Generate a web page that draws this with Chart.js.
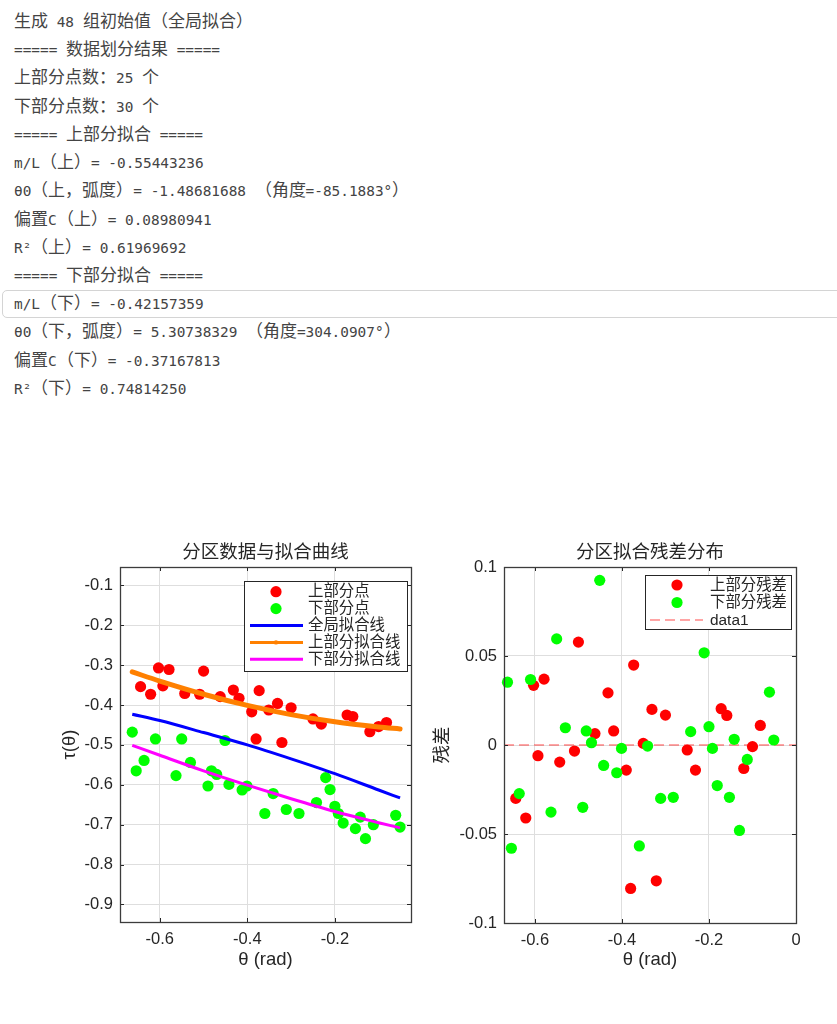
<!DOCTYPE html>
<html>
<head>
<meta charset="utf-8">
<script src="https://cdn.jsdelivr.net/npm/chart.js@4.4.1/dist/chart.umd.min.js"></script>
<style>
  /* CJK glyphs a bit wider than the latin mono cells, like the console font */
  @font-face {
    font-family: "LogCJK";
    src: local("Noto Sans CJK SC"), local("Noto Sans CJK SC Regular"), local("NotoSansCJKsc-Regular");
    unicode-range: U+3000-303F, U+4E00-9FFF, U+FF00-FFEF;
    size-adjust: 118%;
  }
  body { margin:0; background:#fff; width:837px; height:1024px; position:relative; overflow:hidden; }
  #log { position:absolute; left:0; top:8px; width:837px; font-family:"LogCJK","DejaVu Sans Mono","Noto Sans CJK SC",monospace; font-size:14.4px; color:#444; }
  #log div { height:28.23px; line-height:28.23px; padding-left:14px; white-space:pre; box-sizing:border-box; }
  #log div.sel { border:1px solid #d4d4d4; border-radius:5px; margin-left:2px; margin-right:-12px; padding-left:11px; line-height:26.2px; }
  canvas { position:absolute; }
</style>
</head>
<body>
<div id="log">
  <div>生成 48 组初始值（全局拟合）</div>
  <div>===== 数据划分结果 =====</div>
  <div>上部分点数：25 个</div>
  <div>下部分点数：30 个</div>
  <div>===== 上部分拟合 =====</div>
  <div>m/L（上）= -0.55443236</div>
  <div>θ0（上，弧度）= -1.48681688 （角度=-85.1883°）</div>
  <div>偏置C（上）= 0.08980941</div>
  <div>R²（上）= 0.61969692</div>
  <div>===== 下部分拟合 =====</div>
  <div class="sel">m/L（下）= -0.42157359</div>
  <div>θ0（下，弧度）= 5.30738329 （角度=304.0907°）</div>
  <div>偏置C（下）= -0.37167813</div>
  <div>R²（下）= 0.74814250</div>
</div>
<canvas id="fitChart" width="370" height="450" style="left:50px;top:535px"></canvas>
<canvas id="residChart" width="412" height="450" style="left:425px;top:535px"></canvas>
<script>
// ---- data ----
const upperTheta = [-0.644, -0.621, -0.603, -0.593, -0.579, -0.543, -0.509, -0.500, -0.462, -0.432,
                    -0.419, -0.390, -0.380, -0.373, -0.351, -0.331, -0.321, -0.300, -0.250, -0.231,
                    -0.172, -0.159, -0.120, -0.100, -0.082];
const upperTau   = [-0.354, -0.373, -0.307, -0.352, -0.311, -0.371, -0.373, -0.315, -0.379, -0.3625,
                    -0.383, -0.417, -0.485, -0.364, -0.4125, -0.396, -0.494, -0.407, -0.435, -0.448,
                    -0.425, -0.429, -0.467, -0.454, -0.444];
const upperResid = [-0.030, -0.041, 0.0335, -0.006, 0.037, -0.0096, -0.0034, 0.0578, 0.0064, 0.0293,
                    0.0079, -0.0141, -0.0806, 0.0449, 0.0009, 0.020, -0.0763, 0.0168, -0.0028, -0.0141,
                    0.0204, 0.0166, -0.0132, -0.0009, 0.011];

const lowerTheta = [-0.663, -0.654, -0.636, -0.610, -0.563, -0.550, -0.530, -0.490, -0.482, -0.470,
                    -0.451, -0.442, -0.412, -0.401, -0.360, -0.341, -0.311, -0.282, -0.242, -0.221,
                    -0.211, -0.200, -0.192, -0.181, -0.153, -0.142, -0.130, -0.112, -0.061, -0.051];
const lowerTau   = [-0.468, -0.565, -0.539, -0.485, -0.577, -0.485, -0.544, -0.603, -0.565, -0.574,
                    -0.489, -0.599, -0.613, -0.603, -0.672, -0.622, -0.662, -0.672, -0.6445, -0.582,
                    -0.612, -0.654, -0.672, -0.696, -0.710, -0.681, -0.735, -0.700, -0.6765, -0.706];
const lowerResid = [0.0353, -0.058, -0.0273, 0.0368, -0.0377, 0.0596, 0.0097, -0.035, 0.0079, 0.0013,
                    0.0925, -0.0115, -0.0156, -0.0019, -0.0567, -0.0006, -0.030, -0.0294, 0.0075, 0.079,
                    0.0518, 0.0103, -0.0019, -0.0228, -0.0294, 0.0032, -0.048, -0.0081, 0.0297, 0.0028];

const fitTheta  = [-0.663, -0.6, -0.5, -0.4, -0.3, -0.2, -0.1, -0.051];
const globalFit = [-0.423, -0.439, -0.469, -0.500, -0.535, -0.572, -0.613, -0.633];
const upperFit  = [-0.317, -0.340, -0.373, -0.401, -0.424, -0.442, -0.455, -0.460];
const lowerFit  = [-0.501, -0.526, -0.565, -0.601, -0.635, -0.667, -0.695, -0.708];

const zeroLineX = [-0.671, 0];
const zeroLineY = [0, 0];

const fitXTicks   = [-0.6, -0.4, -0.2];
const fitYTicks   = [-0.9, -0.8, -0.7, -0.6, -0.5, -0.4, -0.3, -0.2, -0.1];
const residXTicks = [-0.6, -0.4, -0.2, 0];
const residYTicks = [-0.1, -0.05, 0, 0.05, 0.1];

const INK = '#262626';
const GRID = '#dedede';
const DOT = 5.6;

Chart.defaults.font.family = '"Liberation Sans", "Noto Sans CJK SC", sans-serif';
Chart.defaults.color = INK;

function pts(xs, ys) {
  return xs.map((x, i) => ({x: x, y: ys[i]}));
}

// box around the axes with small inward ticks (matlab look)
const axesBox = {
  id: 'axesBox',
  afterDatasetsDraw(chart) {
    const ctx = chart.ctx, a = chart.chartArea, sx = chart.scales.x, sy = chart.scales.y;
    ctx.save();
    ctx.strokeStyle = INK;
    ctx.lineWidth = 1;
    ctx.beginPath();
    sx.ticks.forEach(t => {
      const px = Math.round(sx.getPixelForValue(t.value)) + 0.5;
      ctx.moveTo(px, a.bottom); ctx.lineTo(px, a.bottom - 4);
      ctx.moveTo(px, a.top); ctx.lineTo(px, a.top + 4);
    });
    sy.ticks.forEach(t => {
      const py = Math.round(sy.getPixelForValue(t.value)) + 0.5;
      ctx.moveTo(a.left, py); ctx.lineTo(a.left + 4, py);
      ctx.moveTo(a.right, py); ctx.lineTo(a.right - 4, py);
    });
    ctx.stroke();
    ctx.strokeStyle = '#3c3c3c';
    ctx.lineWidth = 1.3;
    ctx.strokeRect(Math.round(a.left) + 0.5, Math.round(a.top) + 0.5, Math.round(a.width), Math.round(a.height));
    ctx.restore();
  }
};

// legend box drawn inside the axes, over the data
const boxLegend = {
  id: 'boxLegend',
  afterDraw(chart, args, o) {
    const ctx = chart.ctx, a = chart.chartArea;
    const x0 = a.right - o.right - o.width, y0 = a.top + o.top;
    ctx.save();
    ctx.fillStyle = '#fff';
    ctx.fillRect(x0, y0, o.width, o.height);
    ctx.strokeStyle = INK;
    ctx.lineWidth = 1;
    ctx.strokeRect(Math.round(x0) + 0.5, Math.round(y0) + 0.5, o.width, o.height);
    ctx.font = '15.4px "Liberation Sans", "Noto Sans CJK SC", sans-serif';
    ctx.textBaseline = 'middle';
    ctx.textAlign = 'left';
    chart.data.datasets.forEach((d, i) => {
      const y = y0 + o.firstRow + i * o.rowGap;
      if (d.legendKind === 'dot') {
        ctx.fillStyle = d.backgroundColor;
        ctx.beginPath();
        ctx.arc(x0 + o.markX, y, DOT, 0, Math.PI * 2);
        ctx.fill();
      } else {
        ctx.strokeStyle = d.borderColor;
        ctx.lineWidth = d.legendKind === 'dash' ? 1 : 3;
        ctx.setLineDash(d.borderDash || []);
        ctx.beginPath();
        ctx.moveTo(x0 + o.lineX0, y);
        ctx.lineTo(x0 + o.lineX1, y);
        ctx.stroke();
        ctx.setLineDash([]);
        if (d.legendDot) {
          ctx.fillStyle = d.borderColor;
          ctx.beginPath();
          ctx.arc(x0 + o.markX, y, 2.2, 0, Math.PI * 2);
          ctx.fill();
        }
      }
      ctx.fillStyle = INK;
      ctx.fillText(d.label, x0 + o.textX, y + 0.5);
    });
    ctx.restore();
  }
};

function axis(min, max, tickList, size, titleText, titlePad, isX) {
  return {
    type: 'linear',
    min: min,
    max: max,
    afterBuildTicks: s => { s.ticks = tickList.map(v => ({value: v})); },
    afterFit: s => { if (isX) s.height = size; else s.width = size; },
    grid: { color: GRID, drawTicks: false },
    border: { display: false },
    ticks: { padding: isX ? 8 : 7, color: INK, font: { size: 16.5 }, callback: v => String(v) },
    title: {
      display: true, text: titleText, color: INK, font: { size: 18.5 },
      padding: isX ? { top: 0, bottom: titlePad } : { top: titlePad, bottom: 0 }
    }
  };
}

function baseOptions(titleText, padRight) {
  return {
    responsive: false,
    animation: false,
    devicePixelRatio: 1,
    events: [],
    layout: { padding: { left: 0, top: 0, right: padRight, bottom: 0 } },
    plugins: {
      legend: { display: false },
      tooltip: { enabled: false },
      title: {
        display: true, fullSize: false, text: titleText, color: INK,
        font: { size: 18.5, weight: 'normal', lineHeight: 1.2 },
        padding: { top: 7, bottom: 2.8 }
      }
    }
  };
}

// ---- left: data + fitted curves ----
const fitOpts = baseOptions('分区数据与拟合曲线', 9);
fitOpts.scales = {
  x: axis(-0.691, -0.026, fitXTicks, 63, 'θ (rad)', 13.9, true),
  y: axis(-0.944, -0.054, fitYTicks, 70, 'τ(θ)', 8.9, false)
};
fitOpts.plugins.boxLegend = { right: 4, top: 14, width: 163, height: 90, firstRow: 10.7, rowGap: 16.9,
                              markX: 32, textX: 64, lineX0: 6, lineX1: 59 };

new Chart(document.getElementById('fitChart'), {
  type: 'scatter',
  data: {
    datasets: [
      { label: '上部分点', data: pts(upperTheta, upperTau), legendKind: 'dot', order: 5,
        backgroundColor: '#ff0000', borderWidth: 0, pointRadius: DOT, clip: false },
      { label: '下部分点', data: pts(lowerTheta, lowerTau), legendKind: 'dot', order: 4,
        backgroundColor: '#00ff00', borderWidth: 0, pointRadius: DOT, clip: false },
      { label: '全局拟合线', data: pts(fitTheta, globalFit), legendKind: 'line', order: 3,
        showLine: true, borderColor: '#0000ff', borderWidth: 3, pointRadius: 0,
        cubicInterpolationMode: 'monotone' },
      { label: '上部分拟合线', data: pts(fitTheta, upperFit), legendKind: 'line', legendDot: true, order: 2,
        showLine: true, borderColor: '#ff8000', borderWidth: 5, pointRadius: 0,
        cubicInterpolationMode: 'monotone', borderCapStyle: 'round' },
      { label: '下部分拟合线', data: pts(fitTheta, lowerFit), legendKind: 'line', order: 1,
        showLine: true, borderColor: '#ff00ff', borderWidth: 3, pointRadius: 0,
        cubicInterpolationMode: 'monotone' }
    ]
  },
  options: fitOpts,
  plugins: [axesBox, boxLegend]
});

// ---- right: residuals ----
const resOpts = baseOptions('分区拟合残差分布', 41);
resOpts.scales = {
  x: axis(-0.671, 0, residXTicks, 62, 'θ (rad)', 13.9, true),
  y: axis(-0.1, 0.1, residYTicks, 79, '残差', 6.9, false)
};
resOpts.plugins.boxLegend = { right: 5, top: 8, width: 146, height: 54, firstRow: 10, rowGap: 17.5,
                              markX: 32, textX: 65, lineX0: 5, lineX1: 58 };

new Chart(document.getElementById('residChart'), {
  type: 'scatter',
  data: {
    datasets: [
      { label: '上部分残差', data: pts(upperTheta, upperResid), legendKind: 'dot', order: 2,
        backgroundColor: '#ff0000', borderWidth: 0, pointRadius: DOT, clip: false },
      { label: '下部分残差', data: pts(lowerTheta, lowerResid), legendKind: 'dot', order: 1,
        backgroundColor: '#00ff00', borderWidth: 0, pointRadius: DOT, clip: false },
      { label: 'data1', data: pts(zeroLineX, zeroLineY), legendKind: 'dash', order: 3,
        showLine: true, borderColor: 'rgba(255,30,30,0.8)', borderWidth: 1, borderDash: [10, 5],
        pointRadius: 0 }
    ]
  },
  options: resOpts,
  plugins: [axesBox, boxLegend]
});
</script>
</body>
</html>
